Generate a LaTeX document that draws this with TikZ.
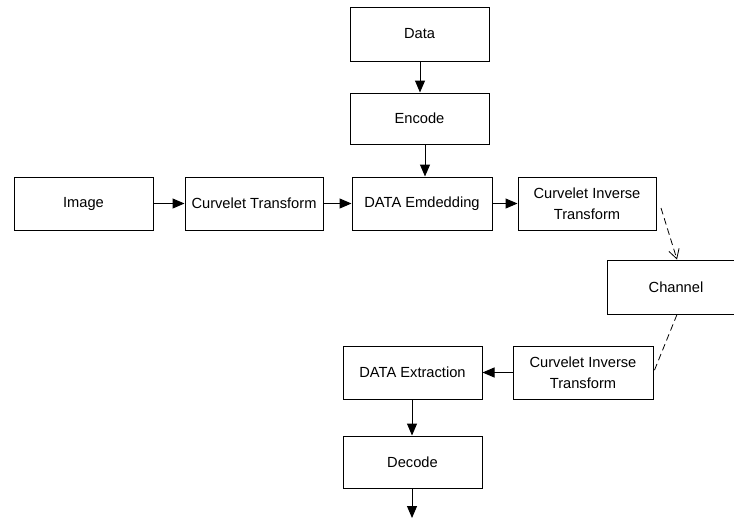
\documentclass[tikz,border=0pt]{standalone}
\usepackage{fontspec}
\setmainfont{Liberation Sans}
\usetikzlibrary{arrows.meta}
\begin{document}
\begin{tikzpicture}[x=0.75pt,y=-0.75pt,
  box/.style={draw,line width=0.75pt,inner sep=0pt,align=center,
    font=\fontsize{11}{16}\selectfont},
  conn/.style={line width=0.75pt,-{Triangle[length=9pt,width=7.5pt]}},
  dconn/.style={line width=0.6pt,dash pattern=on 5pt off 3pt},
]
\clip (0,0) rectangle (734,519);
\node[box,minimum width=139*0.75pt,minimum height=54*0.75pt] (data) at (419.5,34) {Data};
\node[box,minimum width=139*0.75pt,minimum height=51*0.75pt] (enc) at (419.5,118.5) {Encode};
\node[box,minimum width=139*0.75pt,minimum height=53*0.75pt] (img) at (83.5,203.5) {Image};
\node[box,minimum width=138*0.75pt,minimum height=53*0.75pt] (ct) at (254,203.5) {Curvelet Transform};
\node[box,minimum width=140*0.75pt,minimum height=53*0.75pt] (emb) at (422,203.5) {DATA Emdedding};
\node[box,minimum width=138*0.75pt,minimum height=53*0.75pt] (cit1) at (587,203.5) {Curvelet Inverse\\Transform};
\node[box,minimum width=138*0.75pt,minimum height=54*0.75pt] (ch) at (676,287) {Channel};
\node[box,minimum width=140*0.75pt,minimum height=53*0.75pt] (cit2) at (583,372.5) {Curvelet Inverse\\Transform};
\node[box,minimum width=139*0.75pt,minimum height=53*0.75pt] (ext) at (412.5,372.5) {DATA Extraction};
\node[box,minimum width=139*0.75pt,minimum height=52*0.75pt] (dec) at (412.5,462) {Decode};

\coordinate (ax1) at (420,0);
\coordinate (ax2) at (425,0);
\coordinate (ax3) at (412,0);
\coordinate (out) at (412,518);
\coordinate (d1s) at (661,208);
\coordinate (chx) at (677,0);

\draw[conn] (data.south -| ax1) -- (enc.north -| ax1);
\draw[conn] (enc.south -| ax2) -- (emb.north -| ax2);
\draw[conn] (img) -- (ct);
\draw[conn] (ct) -- (emb);
\draw[conn] (emb) -- (cit1);
\draw[dconn,-{Straight Barb[length=7pt,width=8pt]}] (d1s) -- (ch.north -| chx);
\draw[dconn] (ch.south -| chx) -- (cit2.east);
\draw[conn] (cit2) -- (ext);
\draw[conn] (ext.south -| ax3) -- (dec.north -| ax3);
\draw[conn] (dec.south -| ax3) -- (out);
\end{tikzpicture}
\end{document}
